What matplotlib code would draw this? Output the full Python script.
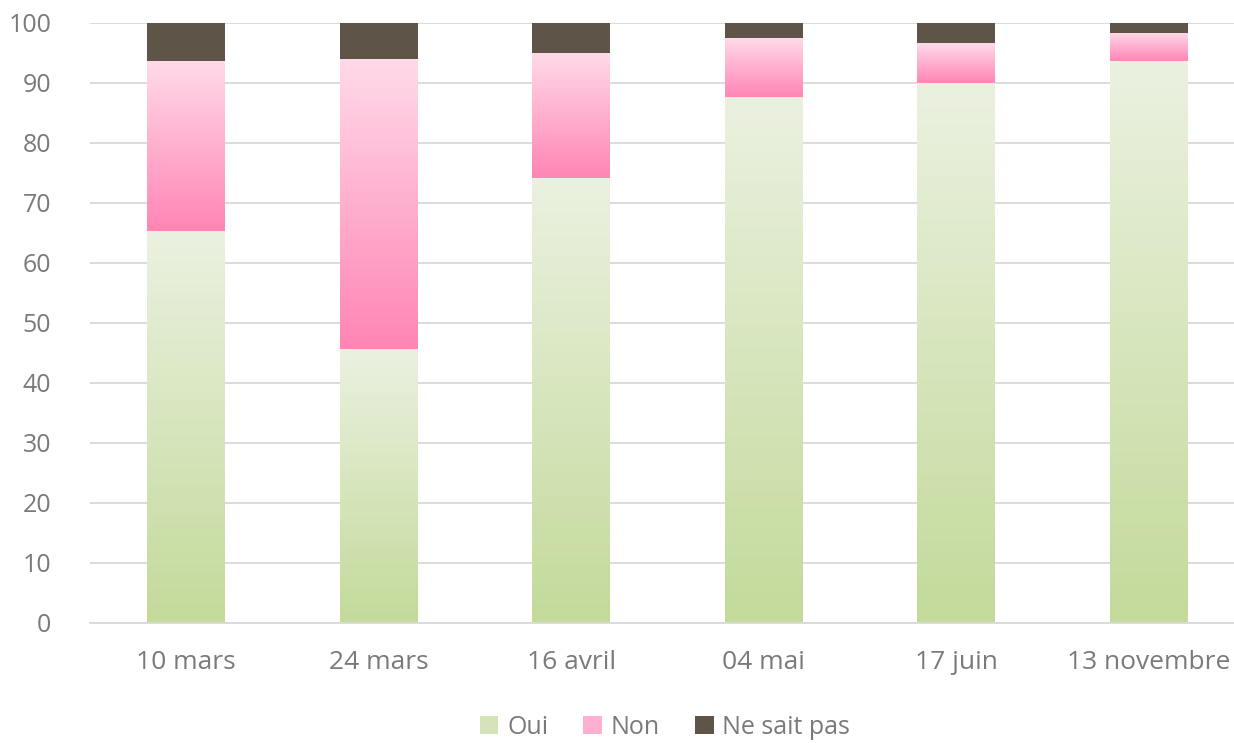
import matplotlib
matplotlib.use("Agg")
import matplotlib.pyplot as plt
import numpy as np
from matplotlib.colors import LinearSegmentedColormap
from matplotlib.patches import Patch

categories = ["10 mars", "24 mars", "16 avril", "04 mai", "17 juin", "13 novembre"]
oui = [65.3, 45.6, 74.1, 87.6, 90.0, 93.6]
non = [28.3, 48.4, 20.9, 9.8, 6.6, 4.7]
nsp = [6.4, 6.0, 5.0, 2.6, 3.4, 1.7]
yticks = [0, 10, 20, 30, 40, 50, 60, 70, 80, 90, 100]

plt.rcParams['font.family'] = ['Open Sans', 'DejaVu Sans']

fig = plt.figure(figsize=(12.34, 7.43), dpi=100)
ax = fig.add_axes([90/1234, 1 - 622.7/743, 1155/1234, 600/743])

x = np.arange(len(categories))
w = 0.405

oui_cmap = LinearSegmentedColormap.from_list("oui", ["#C3DA9A", "#EBF1E0"])
non_cmap = LinearSegmentedColormap.from_list("non", ["#FF85B5", "#FFDAE9"])
grad = np.linspace(0, 1, 256).reshape(-1, 1)

def grad_bars(xs, heights, bottoms, cmap):
    bars = ax.bar(xs, heights, w, bottom=bottoms, facecolor='none', edgecolor='none', zorder=2)
    for b in bars:
        x0, y0 = b.get_x(), b.get_y()
        im = ax.imshow(grad, cmap=cmap, aspect='auto', origin='lower',
                       extent=[x0, x0 + b.get_width(), y0, y0 + b.get_height()],
                       zorder=2, interpolation='bilinear')
        im.set_clip_path(b)
    return bars

grad_bars(x, oui, [0]*len(x), oui_cmap)
bot2 = [a for a in oui]
grad_bars(x, non, bot2, non_cmap)
bot3 = [a + b for a, b in zip(oui, non)]
ax.bar(x, nsp, w, bottom=bot3, color="#5E5548", zorder=2)

ax.set_xlim(-0.5, len(categories) - 0.5)
ax.set_ylim(0, 100)
ax.set_yticks(yticks)
ax.set_xticks(x)
ax.set_xticklabels(categories)
ax.yaxis.grid(True, color="#D9D9D9", linewidth=1.3, zorder=0)
ax.set_axisbelow(True)
for s in ["top", "right", "left"]:
    ax.spines[s].set_visible(False)
ax.spines["bottom"].set_color("#D9D9D9")
ax.spines["bottom"].set_linewidth(1.3)
ax.tick_params(axis='both', length=0, colors="#7A7A7A")
ax.tick_params(axis='x', pad=20, labelsize=19)
ax.tick_params(axis='y', pad=28, labelsize=18)

handles = [Patch(facecolor="#D4E4BA", label="Oui"),
           Patch(facecolor="#FFB0D0", label="Non"),
           Patch(facecolor="#5E5548", label="Ne sait pas")]
fig.legend(handles=handles, loc='center', bbox_to_anchor=(665/1234, 1 - 727/743),
           ncol=3, frameon=False, fontsize=18, handlelength=0.75, handleheight=0.75,
           handletextpad=0.35, columnspacing=1.4, labelcolor="#7A7A7A")

fig.savefig("out.png", dpi=100)
